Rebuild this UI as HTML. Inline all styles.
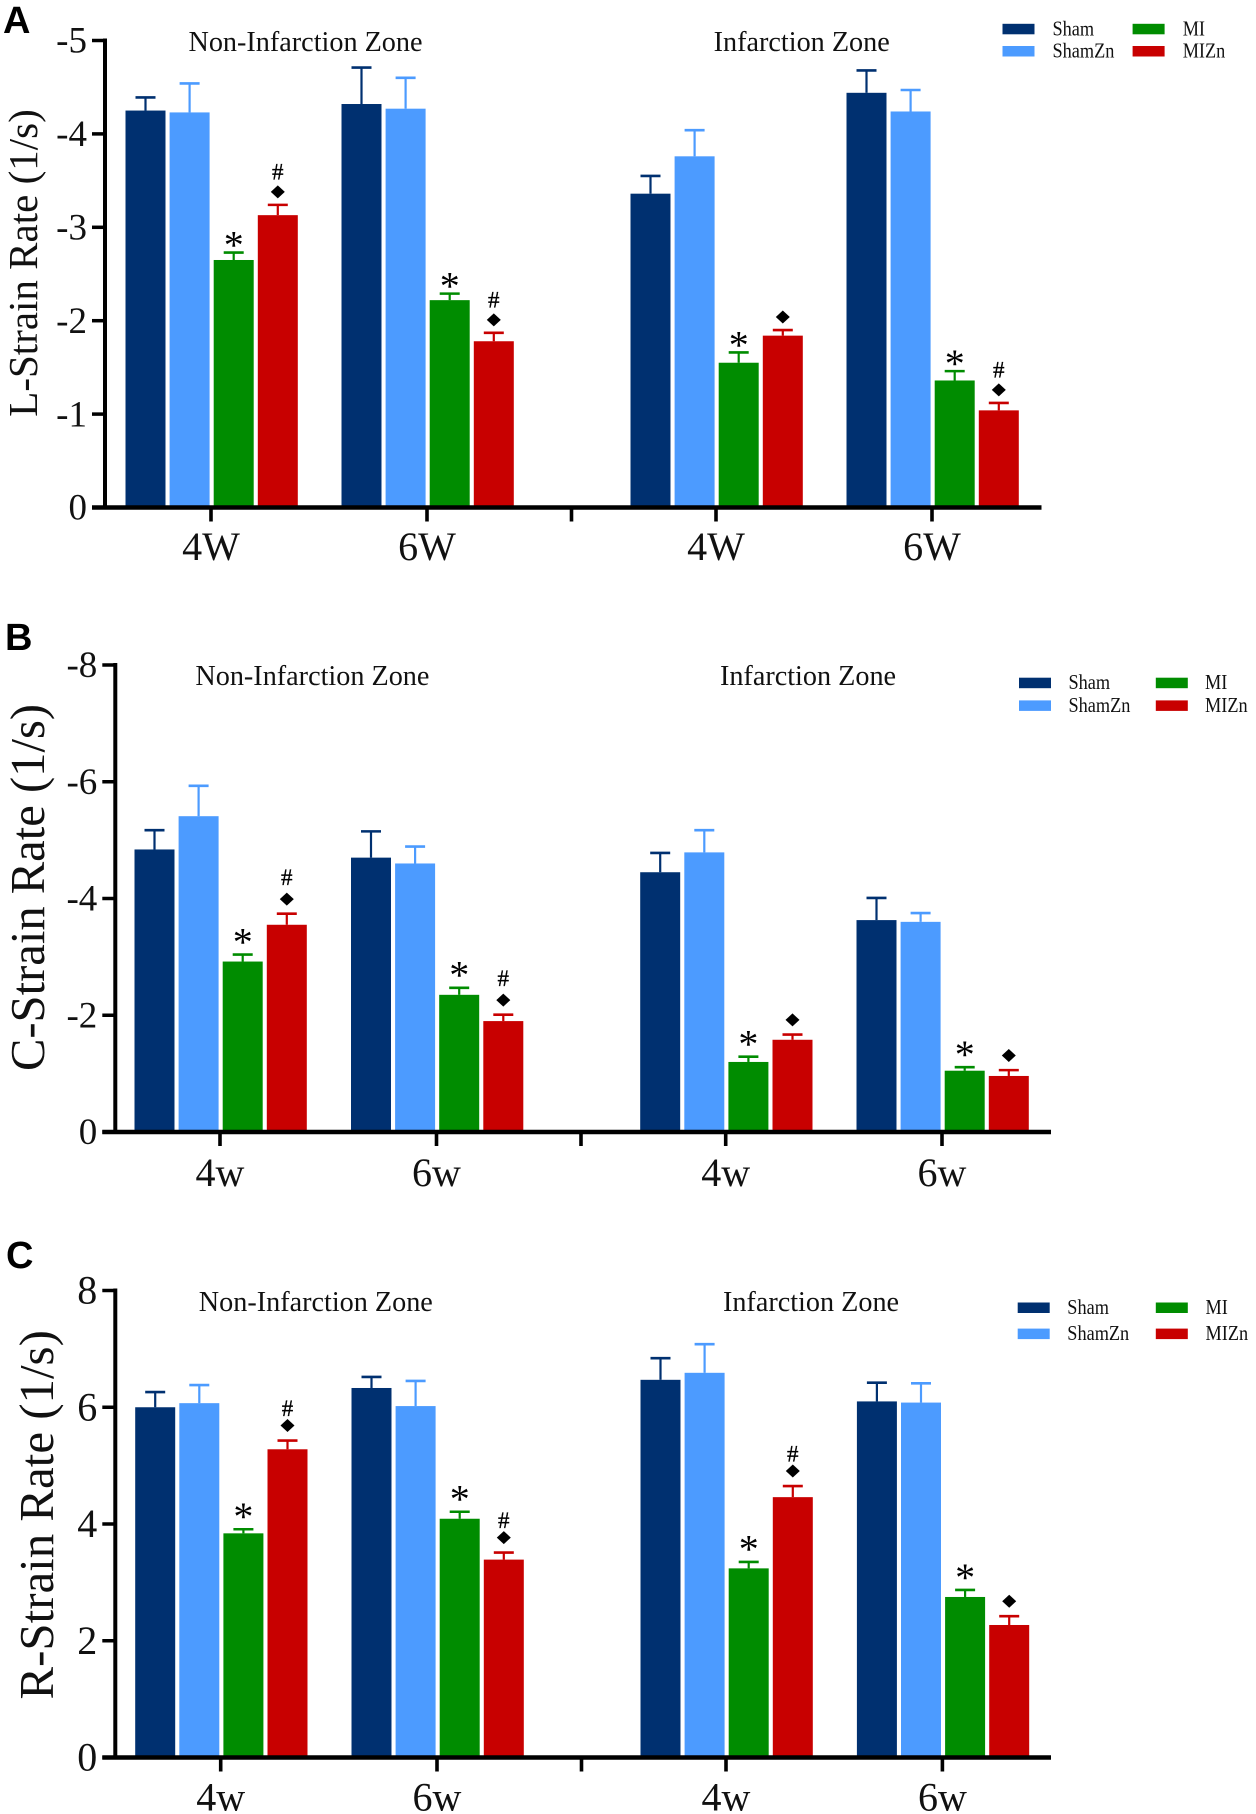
<!DOCTYPE html>
<html lang="en">
<head>
<meta charset="utf-8">
<title>Strain rate bar charts</title>
<style>
html,body{margin:0;padding:0;background:#fff;}
svg{display:block;}
text{font-family:"Liberation Serif",serif;fill:#111;}
</style>
</head>
<body>
<svg id="figure" width="1256" height="1814" viewBox="0 0 1256 1814" xmlns="http://www.w3.org/2000/svg"></svg>
<script>
// Shared categories
const categories = ["Sham", "ShamZn", "MI", "MIZn"];
const zones = ["Non-Infarction Zone", "Infarction Zone"];
const seriesColors = ["#003070", "#4c9bff", "#008c00", "#c80000"];

// Panel A values
const aTicks = [0, -1, -2, -3, -4, -5];
const aWeeks = ["4W", "6W", "4W", "6W"];
const aSham = [-4.25, -4.32, -3.36, -4.44];
const aShamErr = [0.14, 0.39, 0.19, 0.24];
const aShamZn = [-4.23, -4.27, -3.76, -4.24];
const aShamZnErr = [0.31, 0.33, 0.28, 0.23];
const aMI = [-2.65, -2.22, -1.55, -1.36];
const aMIErr = [0.08, 0.07, 0.11, 0.10];
const aMIZn = [-3.13, -1.78, -1.84, -1.04];
const aMIZnErr = [0.11, 0.09, 0.06, 0.08];
const aHash = [1, 1, 0, 1];

// Panel B values
const bTicks = [0, -2, -4, -6, -8];
const bWeeks = ["4w", "6w", "4w", "6w"];
const bSham = [-4.84, -4.70, -4.45, -3.63];
const bShamErr = [0.33, 0.45, 0.33, 0.38];
const bShamZn = [-5.41, -4.60, -4.79, -3.60];
const bShamZnErr = [0.52, 0.29, 0.38, 0.15];
const bMI = [-2.92, -2.35, -1.20, -1.05];
const bMIErr = [0.12, 0.12, 0.09, 0.06];
const bMIZn = [-3.55, -1.90, -1.58, -0.96];
const bMIZnErr = [0.19, 0.11, 0.09, 0.10];
const bHash = [1, 1, 0, 0];

// Panel C values
const cTicks = [0, 2, 4, 6, 8];
const cWeeks = ["4w", "6w", "4w", "6w"];
const cSham = [6.00, 6.33, 6.47, 6.10];
const cShamErr = [0.26, 0.19, 0.37, 0.32];
const cShamZn = [6.07, 6.02, 6.59, 6.08];
const cShamZnErr = [0.31, 0.43, 0.49, 0.33];
const cMI = [3.84, 4.09, 3.24, 2.75];
const cMIErr = [0.07, 0.12, 0.11, 0.12];
const cMIZn = [5.28, 3.39, 4.46, 2.27];
const cMIZnErr = [0.15, 0.12, 0.19, 0.15];
const cHash = [1, 1, 1, 0];

const NS = "http://www.w3.org/2000/svg";
const figure = document.getElementById("figure");

function make(tag, parent, attrs, text) {
  const el = document.createElementNS(NS, tag);
  for (const k in attrs) el.setAttribute(k, attrs[k]);
  if (text !== undefined) el.textContent = text;
  parent.appendChild(el);
  return el;
}

function drawPanel(p) {
  const g = make("g", figure, {});
  
  

  const yScale = v => p.zeroY + (p.topY - p.zeroY) * (v / p.domainMax);
  const xScale = i => p.groupX[i];

  const letter = make("text", g, {x: p.letterX, y: p.letterY, "font-size": 38, "font-weight": "bold", style: 'font-family:"Liberation Sans",sans-serif;fill:#000'}, p.letter);
  
  

  // bars and error bars
  p.series.forEach((values, s) => {
    values.forEach((v, i) => {
      const cx = xScale(i) - 65.5 + 44.1 * s;
      const yTop = yScale(v);
      const sign = v < 0 ? -1 : 1;
      const yErr = yScale(v + sign * p.errors[s][i]);
      const bar = make("rect", g, {x: cx - 20, y: yTop, width: 40, height: p.zeroY - yTop, fill: seriesColors[s]});
      
      
      const stem = make("line", g, {x1: cx, x2: cx, y1: yTop, y2: yErr, stroke: seriesColors[s], "stroke-width": 2.2});
      
      
      const cap = make("line", g, {x1: cx - 10, x2: cx + 10, y1: yErr, y2: yErr, stroke: seriesColors[s], "stroke-width": 2.6});
      
      

      if (s === 2) {
        const star = make("text", g, {x: cx, y: yErr - p.starOffset + 18.8, "font-size": 40, "text-anchor": "middle", style: "fill:#000"}, "*");
        
        
      }
      if (s === 3) {
        const dy = yErr - p.diamondOffset;
        const points = [[cx, dy - 6.5], [cx + 7, dy], [cx, dy + 6.5], [cx - 7, dy]].map(q => q.join(",")).join(" ");
        const diamond = make("polygon", g, {points: points, fill: "#000"});
        
        
        if (p.hash[i]) {
          const hash = make("text", g, {x: cx, y: yErr - p.hashOffset + 7.5, "font-size": 23, "text-anchor": "middle", style: "fill:#000;stroke:#000;stroke-width:.3"}, "#");
          
          
        }
      }
    });
  });

  // y axis
  const yAxis = make("line", g, {x1: p.axisX, x2: p.axisX, y1: p.topY - 2, y2: p.zeroY + 2, stroke: "#000", "stroke-width": 4});
  
  
  p.ticks.forEach(t => {
    const y = yScale(t);
    const tick = make("line", g, {x1: p.axisX - 13, x2: p.axisX, y1: y, y2: y, stroke: "#000", "stroke-width": 3.5});
    
    
    const label = make("text", g, {x: p.axisX - 18, y: y + p.tickFont * 0.33, "font-size": p.tickFont, "text-anchor": "end"}, String(t));
    
    
  });
  const title = make("text", g, {transform: "translate(" + p.titleX + "," + p.titleY + ") rotate(-90)", "font-size": p.titleFont, "text-anchor": "middle"}, p.title);
  
  

  // x axis
  const xAxis = make("line", g, {x1: p.axisX - 13, x2: p.axisEnd, y1: p.zeroY, y2: p.zeroY, stroke: "#000", "stroke-width": 4.4});
  
  
  p.weeks.forEach((w, i) => {
    const tick = make("line", g, {x1: xScale(i), x2: xScale(i), y1: p.zeroY, y2: p.zeroY + 14, stroke: "#000", "stroke-width": 3.6});
    
    
    const label = make("text", g, {x: xScale(i), y: p.weekY, "font-size": 40, "text-anchor": "middle"}, w);
    
    
  });
  const sep = make("line", g, {x1: p.sepX, x2: p.sepX, y1: p.zeroY, y2: p.zeroY + 14, stroke: "#000", "stroke-width": 3.6});
  
  

  // zone titles
  zones.forEach((z, i) => {
    const zt = make("text", g, {x: p.zoneX[i], y: p.zoneY, "font-size": 28.2, "text-anchor": "middle"}, z);
    
    
  });

  // legend
  categories.forEach((c, i) => {
    const col = i < 2 ? 0 : 1;
    const row = i % 2;
    const sw = make("rect", g, {x: p.legSwatchX[col], y: p.legY[row], width: 32, height: 10.5, fill: seriesColors[i]});
    
    
    const lt = make("text", g, {transform: "translate(" + p.legTextX[col] + "," + (p.legY[row] + 11.5) + ") scale(0.87,1)", "font-size": 21}, c);
    
    
  });
}

drawPanel({
  name: "panel-a-l-strain", letter: "A", letterX: 3, letterY: 33,
  title: "L-Strain Rate (1/s)", titleX: 37, titleY: 263, titleFont: 41,
  ticks: aTicks, weeks: aWeeks, domainMax: -5, tickFont: 37,
  series: [aSham, aShamZn, aMI, aMIZn], errors: [aShamErr, aShamZnErr, aMIErr, aMIZnErr], hash: aHash,
  axisX: 105, axisEnd: 1041.5, topY: 40.5, zeroY: 507.5, weekY: 560,
  groupX: [211, 427, 716, 932], sepX: 571.5,
  zoneX: [305.5, 801.7], zoneY: 51,
  starOffset: 13, diamondOffset: 13, hashOffset: 33,
  legSwatchX: [1002.5, 1132.6], legTextX: [1052.5, 1182.7], legY: [23.8, 46]
});

drawPanel({
  name: "panel-b-c-strain", letter: "B", letterX: 5, letterY: 650,
  title: "C-Strain Rate (1/s)", titleX: 44, titleY: 887.5, titleFont: 48.6,
  ticks: bTicks, weeks: bWeeks, domainMax: -8, tickFont: 37,
  series: [bSham, bShamZn, bMI, bMIZn], errors: [bShamErr, bShamZnErr, bMIErr, bMIZnErr], hash: bHash,
  axisX: 115.3, axisEnd: 1051, topY: 665, zeroY: 1132, weekY: 1186,
  groupX: [220, 436.5, 725.7, 942], sepX: 581,
  zoneX: [312.4, 808], zoneY: 685,
  starOffset: 18, diamondOffset: 14.6, hashOffset: 36,
  legSwatchX: [1019, 1155.8], legTextX: [1068.5, 1205], legY: [677.7, 700.4]
});

drawPanel({
  name: "panel-c-r-strain", letter: "C", letterX: 6, letterY: 1268,
  title: "R-Strain Rate (1/s)", titleX: 53, titleY: 1514.8, titleFont: 48.9,
  ticks: cTicks, weeks: cWeeks, domainMax: 8, tickFont: 40,
  series: [cSham, cShamZn, cMI, cMIZn], errors: [cShamErr, cShamZnErr, cMIErr, cMIZnErr], hash: cHash,
  axisX: 115.3, axisEnd: 1051, topY: 1290.5, zeroY: 1757.5, weekY: 1810.5,
  groupX: [220.7, 437, 726, 942.4], sepX: 581.5,
  zoneX: [315.8, 811], zoneY: 1311,
  starOffset: 18, diamondOffset: 15, hashOffset: 32,
  legSwatchX: [1017.7, 1155.8], legTextX: [1067.3, 1205.5], legY: [1302.5, 1328.6]
});
</script>
</body>
</html>
